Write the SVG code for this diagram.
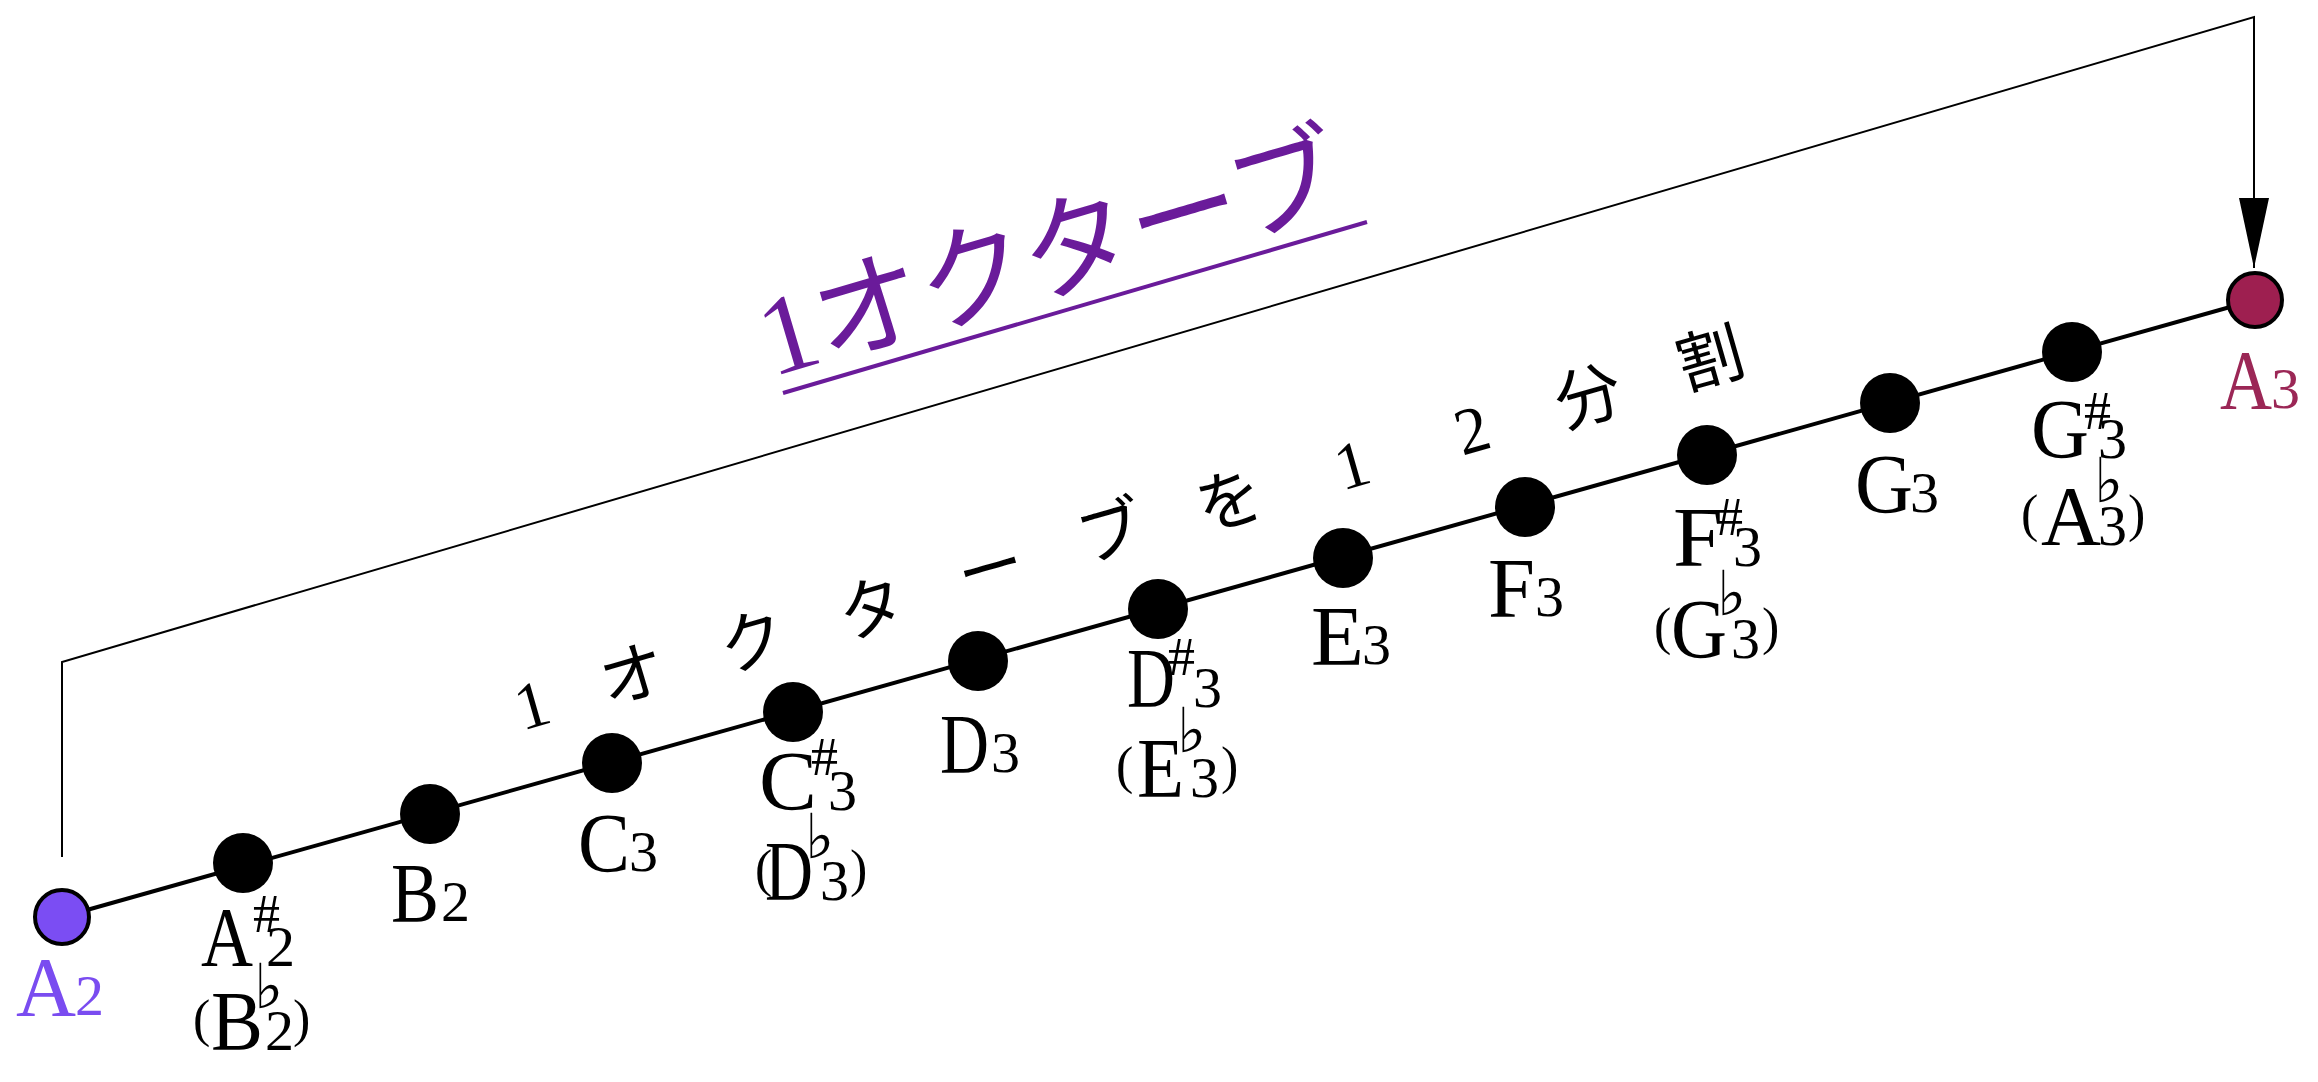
<svg xmlns="http://www.w3.org/2000/svg" width="2318" height="1082" viewBox="0 0 2318 1082">
<style>
.dot{fill:#000}
.lt{font-family:'Liberation Serif',serif;font-size:84px;fill:#000}
.dg{font-family:'Liberation Serif',serif;font-size:58px;fill:#000}
.sh{font-family:'Liberation Serif',serif;font-size:54px;fill:#000}
.fl{font-family:'DejaVu Sans',sans-serif;font-size:62px;fill:#000}
.pr{font-family:'Liberation Serif',serif;font-size:52px;fill:#000}
.jp{font-family:'Liberation Serif','Noto Sans CJK JP',serif;font-size:66px;fill:#000;text-anchor:middle}
.a2{fill:#7A4CF0}
.a3{fill:#9B2756}
</style>
<defs>
<marker id="arr" viewBox="0 0 70 30" markerWidth="70" markerHeight="30" refX="70" refY="15" orient="auto" markerUnits="userSpaceOnUse">
<path d="M0,0 L70,15 L0,30 z" fill="#000"/>
</marker>
</defs>
<rect width="2318" height="1082" fill="#fff"/>
<g id="connectors" fill="none" stroke="#000">
<line x1="62" y1="917" x2="2255" y2="300" stroke-width="4"/>
<path d="M62,857 L62,662 L2254,17 L2254,268" stroke-width="2" marker-end="url(#arr)"/>
</g>
<g id="title">
<text transform="translate(772,377) rotate(-16.4)" style="font-family:'Liberation Serif','Noto Sans CJK JP',serif;font-size:112px;fill:#6A1B9A">1オクターブ</text>
<line x1="783" y1="393" x2="1367" y2="222" stroke="#6A1B9A" stroke-width="4"/>
</g>
<g id="subtitle">
<text class="jp" transform="translate(532,705) rotate(-16)" y="22">1</text>
<text class="jp" transform="translate(632,673) rotate(-16)" y="25">オ</text>
<text class="jp" transform="translate(752,640) rotate(-16)" y="25">ク</text>
<text class="jp" transform="translate(871,607) rotate(-16)" y="25">タ</text>
<text class="jp" transform="translate(990,567) rotate(-16)" y="25">ー</text>
<text class="jp" transform="translate(1110,530) rotate(-16)" y="25">ブ</text>
<text class="jp" transform="translate(1229,499) rotate(-16)" y="25">を</text>
<text class="jp" transform="translate(1352,465) rotate(-16)" y="22">1</text>
<text class="jp" transform="translate(1472,430) rotate(-16)" y="22">2</text>
<text class="jp" transform="translate(1588,395) rotate(-16)" y="25">分</text>
<text class="jp" transform="translate(1710,357) rotate(-16)" y="25">割</text>
</g>
<g id="A2">
<circle cx="62" cy="917" r="27" fill="#7B4DF3" stroke="#000" stroke-width="4"/>
<text class="lt a2" x="16" y="1016" textLength="60" lengthAdjust="spacingAndGlyphs">A</text>
<text class="dg a2" x="75" y="1015">2</text>
</g>
<g id="As2">
<circle class="dot" cx="243" cy="863" r="30"/>
<text class="lt" x="201" y="966" textLength="52" lengthAdjust="spacingAndGlyphs">A</text>
<text class="sh" x="253" y="932">#</text>
<text class="dg" x="266" y="966">2</text>
<text class="pr" x="193" y="1036">(</text>
<text class="lt" x="211" y="1050" textLength="52" lengthAdjust="spacingAndGlyphs">B</text>
<text class="fl" x="254" y="1008">♭</text>
<text class="dg" x="265" y="1050">2</text>
<text class="pr" x="293" y="1036">)</text>
</g>
<g id="B2">
<circle class="dot" cx="430" cy="814" r="30"/>
<text class="lt" x="391" y="922" textLength="48" lengthAdjust="spacingAndGlyphs">B</text>
<text class="dg" x="441" y="921">2</text>
</g>
<g id="C3">
<circle class="dot" cx="612" cy="763" r="30"/>
<text class="lt" x="578" y="872" textLength="52" lengthAdjust="spacingAndGlyphs">C</text>
<text class="dg" x="629" y="871">3</text>
</g>
<g id="Cs3">
<circle class="dot" cx="793" cy="712" r="30"/>
<text class="lt" x="759" y="810" textLength="58" lengthAdjust="spacingAndGlyphs">C</text>
<text class="sh" x="811" y="775">#</text>
<text class="dg" x="828" y="810">3</text>
<text class="pr" x="755" y="886">(</text>
<text class="lt" x="765" y="900" textLength="48" lengthAdjust="spacingAndGlyphs">D</text>
<text class="fl" x="805" y="858">♭</text>
<text class="dg" x="820" y="900">3</text>
<text class="pr" x="850" y="886">)</text>
</g>
<g id="D3">
<circle class="dot" cx="978" cy="661" r="30"/>
<text class="lt" x="940" y="773" textLength="49" lengthAdjust="spacingAndGlyphs">D</text>
<text class="dg" x="991" y="772">3</text>
</g>
<g id="Ds3">
<circle class="dot" cx="1158" cy="609" r="30"/>
<text class="lt" x="1127" y="707" textLength="48" lengthAdjust="spacingAndGlyphs">D</text>
<text class="sh" x="1168" y="675">#</text>
<text class="dg" x="1193" y="707">3</text>
<text class="pr" x="1116" y="783">(</text>
<text class="lt" x="1137" y="797" textLength="47" lengthAdjust="spacingAndGlyphs">E</text>
<text class="fl" x="1177" y="752">♭</text>
<text class="dg" x="1190" y="797">3</text>
<text class="pr" x="1221" y="783">)</text>
</g>
<g id="E3">
<circle class="dot" cx="1343" cy="558" r="30"/>
<text class="lt" x="1311" y="665" textLength="53" lengthAdjust="spacingAndGlyphs">E</text>
<text class="dg" x="1362" y="664">3</text>
</g>
<g id="F3">
<circle class="dot" cx="1525" cy="507" r="30"/>
<text class="lt" x="1488" y="617" textLength="47" lengthAdjust="spacingAndGlyphs">F</text>
<text class="dg" x="1535" y="616">3</text>
</g>
<g id="Fs3">
<circle class="dot" cx="1707" cy="455" r="30"/>
<text class="lt" x="1673" y="566" textLength="50" lengthAdjust="spacingAndGlyphs">F</text>
<text class="sh" x="1716" y="535">#</text>
<text class="dg" x="1733" y="566">3</text>
<text class="pr" x="1654" y="644">(</text>
<text class="lt" x="1671" y="658" textLength="56" lengthAdjust="spacingAndGlyphs">G</text>
<text class="fl" x="1717" y="615">♭</text>
<text class="dg" x="1731" y="658">3</text>
<text class="pr" x="1762" y="644">)</text>
</g>
<g id="G3">
<circle class="dot" cx="1890" cy="403" r="30"/>
<text class="lt" x="1855" y="513" textLength="58" lengthAdjust="spacingAndGlyphs">G</text>
<text class="dg" x="1910" y="512">3</text>
</g>
<g id="Gs3">
<circle class="dot" cx="2072" cy="352" r="30"/>
<text class="lt" x="2031" y="458" textLength="58" lengthAdjust="spacingAndGlyphs">G</text>
<text class="sh" x="2084" y="429">#</text>
<text class="dg" x="2098" y="458">3</text>
<text class="pr" x="2021" y="531">(</text>
<text class="lt" x="2041" y="545" textLength="60" lengthAdjust="spacingAndGlyphs">A</text>
<text class="fl" x="2094" y="502">♭</text>
<text class="dg" x="2098" y="545">3</text>
<text class="pr" x="2128" y="531">)</text>
</g>
<g id="A3">
<circle cx="2255" cy="300" r="27" fill="#9E1F50" stroke="#000" stroke-width="4"/>
<text class="lt a3" x="2220" y="409" textLength="52" lengthAdjust="spacingAndGlyphs">A</text>
<text class="dg a3" x="2271" y="408">3</text>
</g>
</svg>
